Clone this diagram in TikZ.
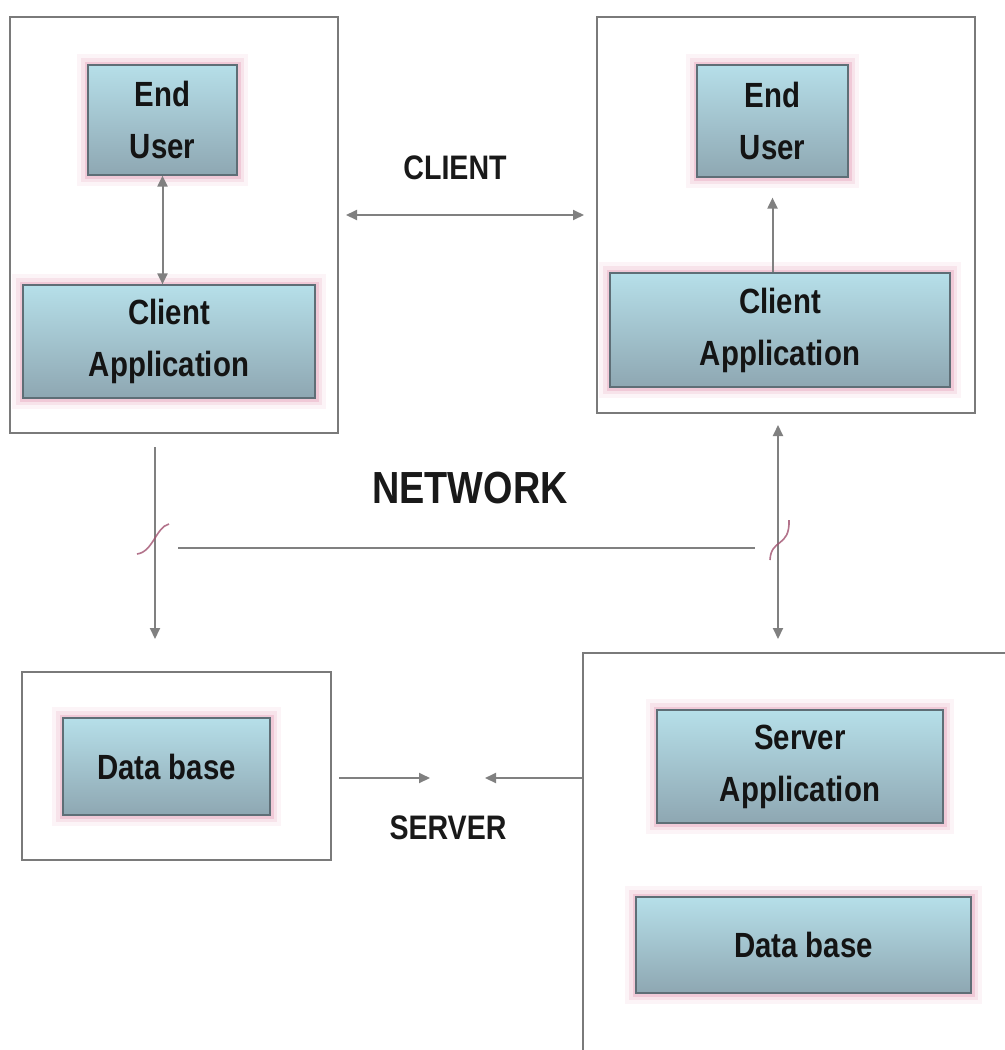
\documentclass[tikz,border=0pt]{standalone}
\usepackage{fontspec}
\setmainfont{Liberation Sans}[FakeStretch=0.84]
\usetikzlibrary{arrows.meta,calc}
\definecolor{linegrey}{HTML}{808080}
\definecolor{framegrey}{HTML}{7A7A7A}
\definecolor{boxedge}{HTML}{5E6E76}
\definecolor{bluetop}{HTML}{B6DFE9}
\definecolor{bluebot}{HTML}{8EA7B2}
\definecolor{glow}{HTML}{E39AB4}
\definecolor{squig}{HTML}{A0506E}
\begin{document}
\begin{tikzpicture}[x=0.5pt,y=-0.5pt,
  frame/.style={draw=framegrey, line width=1pt, fill=none, inner sep=0pt},
  appbox/.style={draw=boxedge, line width=0.6pt, top color=bluetop, bottom color=bluebot,
    preaction={draw=glow, line width=11pt, opacity=0.10, rounded corners=5pt},
    preaction={draw=glow, line width=7pt, opacity=0.18, rounded corners=3pt},
    preaction={draw=glow, line width=3.5pt, opacity=0.35, rounded corners=1pt},
    align=center, inner sep=0pt,
    font=\fontsize{17.5}{26}\selectfont\bfseries, text=black!92},
  lbl/.style={font=\fontsize{17}{20}\selectfont\bfseries, text=black!90, inner sep=0pt},
  conn/.style={draw=linegrey, line width=1pt},
  tip/.style={-{Triangle[length=5.5pt,width=5pt]}},
  dtip/.style={{Triangle[length=5.5pt,width=5pt]}-{Triangle[length=5.5pt,width=5pt]}},
  squiggle/.style={draw=squig, line width=0.8pt, opacity=0.8}
]
\useasboundingbox (0,0) rectangle (1005,1050);
\fill[white] (0,0) rectangle (1005,1050);
\clip (0,0) rectangle (1005,1050);

% outer frames
\node[frame, minimum width=164pt, minimum height=208pt] (clL) at (174,225) {};
\node[frame, minimum width=189pt, minimum height=198pt] (clR) at (786,215) {};
\node[frame, minimum width=154.5pt, minimum height=94pt] (sbL) at (176.5,766) {};
\node[frame, minimum width=216pt, minimum height=203.5pt] (srv) at (799,856.5) {};

% inner boxes
\node[appbox, minimum width=74.5pt, minimum height=55pt] (euL) at (162.5,120) {End\\User};
\node[appbox, minimum width=146pt, minimum height=56.5pt] (caL) at (169,341.5) {Client\\Application};
\node[appbox, minimum width=75.5pt, minimum height=56pt] (euR) at (772.5,121) {End\\User};
\node[appbox, minimum width=170pt, minimum height=57pt] (caR) at (780,330) {Client\\Application};
\node[appbox, minimum width=103.5pt, minimum height=48.5pt] (dbL) at (166.5,766.5) {Data base};
\node[appbox, minimum width=143pt, minimum height=56.5pt] (sapp) at (800,766.5) {Server\\Application};
\node[appbox, minimum width=167.5pt, minimum height=48pt] (dbR) at (803.5,945) {Data base};

% labels
\node[lbl] (client) at (455,168) {CLIENT};
\node[lbl, font=\fontsize{22.5}{26}\selectfont\bfseries] (network) at (470,488) {NETWORK};
\node[lbl] (server) at (448,828) {SERVER};

% connectors inside client boxes
\draw[conn, dtip] (euL.south) -- (euL.south |- caL.north);
\draw[conn, tip, shorten >=10pt] (euR.south |- caR.north) -- (euR.south);

% client link
\draw[conn, dtip, shorten <=3.5pt, shorten >=6pt] (clL.east |- clR.west) -- (clR.west);

% network lines
\coordinate (nl) at (155,447);
\coordinate (nr) at (778,413);
\coordinate (h1) at (178,548);
\coordinate (h2) at (755,548);
\draw[conn, tip, shorten >=16pt] (nl) -- (nl |- sbL.north);
\draw[conn, dtip, shorten <=6pt, shorten >=6.5pt] (nr) -- (nr |- srv.north);
\draw[conn] (h1) -- (h2);
\draw[squiggle] (137,554) .. controls (153,552) and (156,527) .. (169,524);
\draw[squiggle] (770,560) .. controls (771,538) and (790,548) .. (789,520);

% server arrows
\coordinate (sa1) at (430,778);
\coordinate (sa2) at (485,778);
\draw[conn, tip, shorten <=3.5pt] (sbL.east |- sa1) -- (sa1);
\draw[conn, tip] (srv.west |- sa2) -- (sa2);
\end{tikzpicture}
\end{document}
